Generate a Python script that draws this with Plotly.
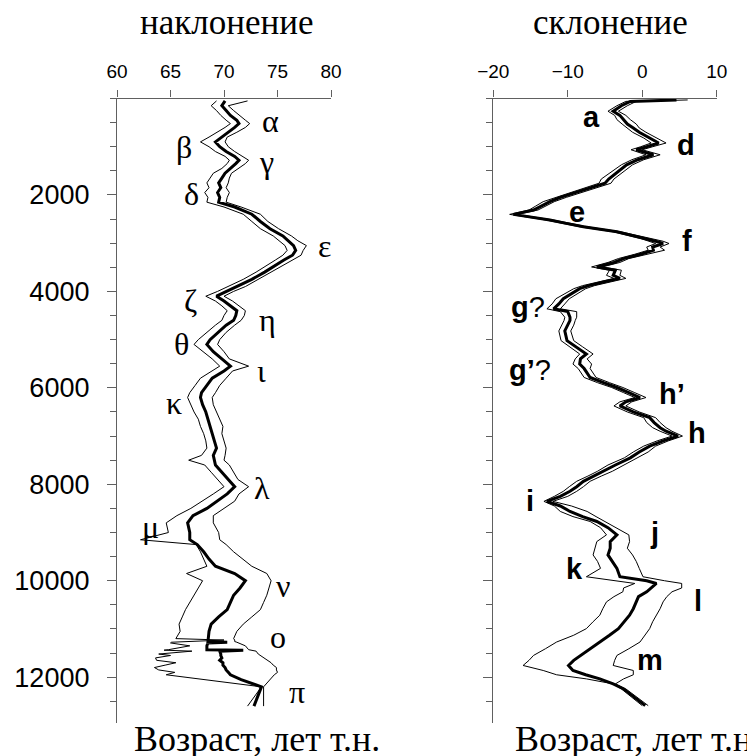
import plotly.graph_objects as go

# ---------------- Inclination (наклонение) ----------------
inc_age = [50, 150, 250, 350, 450, 520, 600, 700, 800, 900, 1000, 1100, 1200, 1280, 1350,
           1450, 1550, 1650, 1750, 1850, 1950, 2050, 2150, 2250, 2400, 2550, 2700, 2850,
           2950, 3050, 3150, 3250, 3350, 3450, 3600, 3750, 3900, 4000, 4100, 4200, 4300,
           4400, 4500, 4600, 4700, 4850, 5000, 5100, 5250, 5400, 5550, 5650, 5800, 5950,
           6100, 6200, 6350, 6500, 6650, 6800, 6950, 7100, 7250, 7400, 7500, 7600, 7750,
           7900, 8050, 8200, 8350, 8500, 8650, 8800, 9000, 9150, 9250, 9400, 9550, 9700,
           9850, 10000, 10150, 10300, 10450, 10600, 10750, 10900,
           11050, 11200, 11230, 11260, 11275, 11290, 11350, 11430, 11440, 11460, 11520, 11550,
           11600, 11650, 11700, 11750, 11800, 11850, 11900, 11950, 12050, 12200, 12600]
inc_mid = [70.1, 69.8, 70.2, 70.6, 71.2, 71.4, 71.0, 70.4, 69.7, 69.2, 69.6, 70.2, 71.0, 71.4, 71.1,
           70.6, 70.1, 69.8, 69.5, 69.7, 69.4, 69.6, 69.5, 71.0, 72.6, 73.4, 74.3, 75.5,
           76.0, 76.5, 76.7, 76.4, 75.6, 74.9, 73.8, 72.6, 71.2, 70.2, 69.3, 70.0, 70.6,
           71.2, 71.1, 70.9, 70.2, 69.4, 68.7, 68.4, 69.0, 69.8, 70.6, 70.0, 68.9, 68.4,
           67.9, 67.8, 68.0, 68.3, 68.5, 68.7, 68.9, 69.1, 69.3, 69.0, 69.1, 69.2, 69.8,
           70.4, 71.0, 70.3, 69.4, 68.4, 67.1, 66.6, 66.8, 66.8, 67.5, 68.1, 68.6, 69.2,
           71.0, 72.0, 71.5, 70.9, 70.6, 70.3, 69.5, 68.8,
           68.6, 68.5, 68.5, 68.5, 70.3, 68.5, 68.4, 68.4, 71.8, 69.6, 69.7, 69.7,
           69.8, 69.6, 69.9, 69.9, 70.1, 70.2, 70.4, 70.6, 71.6, 73.5, 72.8]
inc_low = [69.3, 68.8, 69.3, 69.7, 70.2, 70.6, 70.1, 69.4, 68.6, 67.8, 68.6, 69.2, 70.1, 70.5, 70.3,
           69.8, 69.0, 68.7, 68.4, 68.6, 68.2, 68.5, 68.4, 70.0, 71.8, 72.6, 73.4, 74.6,
           75.2, 75.7, 75.9, 75.5, 74.8, 74.1, 73.0, 71.8, 70.4, 69.4, 68.3, 69.2, 69.8,
           70.3, 70.0, 69.8, 69.2, 68.4, 67.6, 67.2, 68.1, 68.9, 69.6, 68.9, 67.8, 67.3,
           66.8, 66.6, 66.9, 67.2, 67.6, 67.8, 68.1, 68.3, 68.4, 67.9, 66.7, 68.2, 68.8,
           69.4, 70.0, 69.0, 68.0, 66.9, 65.6, 64.6, 64.8, 62.2, 67.4, 67.8, 68.1, 68.4,
           66.5, 68.0, 67.6, 67.2, 66.8, 66.4, 66.1, 65.8,
           65.9, 65.5, 70.0, 65.2, 65.1, 65.0, 66.8, 64.8, 64.4, 67.0, 63.9, 65.0,
           63.6, 63.7, 65.5, 64.5, 63.5, 63.9, 65.4, 64.6, 68.2, 73.5, 72.2]
inc_up = [72.2, 70.4, 70.9, 71.4, 72.0, 72.4, 72.0, 71.2, 70.3, 70.1, 70.4, 71.0, 71.8, 72.3, 72.0,
          71.3, 70.7, 70.5, 70.4, 70.2, 70.5, 70.3, 70.2, 71.6, 73.4, 74.1, 75.1, 76.3,
          76.9, 77.7, 77.4, 77.2, 76.4, 75.7, 74.5, 73.3, 72.0, 70.9, 70.0, 70.8, 71.4,
          72.0, 71.9, 71.6, 71.0, 70.2, 69.6, 69.4, 70.0, 70.5, 72.3, 70.8, 70.2, 69.6,
          69.2, 68.9, 69.0, 69.3, 69.6, 69.9, 69.8, 70.0, 70.2, 70.1, 70.0, 70.5, 70.9,
          71.3, 72.3, 71.4, 71.0, 70.0, 69.0, 69.0, 69.5, 69.6, 70.2, 70.9, 71.7, 72.6,
          74.0, 74.4, 74.2, 74.0, 73.7, 73.4, 72.6, 71.8,
          71.2, 70.9, 71.0, 71.0, 71.2, 71.4, 72.0, 72.3, 72.5, 73.0, 73.2, 73.4,
          73.7, 74.0, 74.4, 74.6, 74.9, 74.9, 75.0, 74.7, 74.3, 73.7, 73.7]

# ---------------- Declination (склонение) ----------------
dec_age = [30, 60, 150, 264, 350, 438, 530, 611, 700, 819, 923, 1000, 1063, 1167, 1270, 1375,
           1480, 1583, 1670, 1757, 1860, 1965, 2050, 2139, 2230, 2313, 2403, 2460, 2521, 2590,
           2660, 2764, 2850, 2903, 2960, 3007, 3080, 3146, 3230, 3319, 3400, 3493, 3560, 3667,
           3730, 3806, 3880, 3944, 4050, 4153, 4260, 4361, 4420, 4535, 4604, 4700, 4820, 5021,
           5150, 5298, 5400, 5507, 5600, 5785, 5893, 5993, 6100, 6201, 6290, 6375, 6500, 6618,
           6720, 6826, 6900, 7000, 7100, 7208, 7330, 7451, 7600, 7729, 7830, 7938, 8050, 8146,
           8250, 8354, 8450, 8563, 8670, 8771, 8900, 9049, 9188, 9326, 9465, 9600, 9743, 9917,
           10000, 10056, 10150, 10229, 10330, 10438, 10580, 10715, 10850, 10993, 11130, 11271,
           11410, 11549, 11650, 11757, 11861, 11950, 12035, 12139, 12243, 12590]
dec_mid = [4.6, -1.6, -2.8, -3.9, -3.0, -2.5, -2.0, -1.2, -0.4, 1.0, 2.2, 0.6, -0.8, 1.5, -0.6, -2.1,
           -3.0, -3.9, -4.5, -5.0, -7.0, -9.3, -11.0, -12.4, -13.6, -14.6, -17.3, -14.8, -12.4, -10.2,
           -7.9, -3.4, -1.0, 0.6, 1.8, 2.8, 1.4, 1.5, -0.2, -2.5, -3.8, -6.1, -3.6, -3.9,
           -3.0, -5.2, -7.2, -8.4, -9.6, -10.6, -11.2, -11.9, -10.0, -9.7, -9.7, -10.0, -10.4, -10.1,
           -8.9, -7.5, -8.3, -8.4, -7.8, -7.0, -5.2, -3.4, -1.8, -0.3, -2.2, -3.0, -1.2, 1.0,
           1.6, 2.4, 3.2, 4.8, 2.8, 1.0, -0.4, -1.6, -3.6, -5.2, -6.5, -7.9, -8.8, -9.7,
           -11.0, -12.8, -11.0, -9.7, -8.0, -6.1, -4.6, -3.4, -4.3, -4.3, -4.6, -4.0, -3.4, -3.0,
           0.6, 1.9, 1.2, 0.6, -0.5, -0.8, -1.2, -1.7, -2.4, -3.2, -4.4, -5.7,
           -7.0, -8.4, -9.2, -9.9, -9.3, -7.6, -5.7, -3.9, -2.5, 0.4]
dec_low = [4.0, -2.2, -3.4, -4.6, -3.7, -3.4, -2.7, -2.0, -1.3, 0.2, 1.2, -0.2, -1.5, 0.5, -1.4, -2.8,
           -3.8, -4.8, -5.5, -5.8, -7.8, -10.0, -11.7, -13.3, -14.3, -15.2, -17.8, -15.3, -12.9, -10.7,
           -8.4, -3.9, -1.6, -0.2, 0.9, 1.8, 0.6, 0.8, -1.0, -3.2, -4.6, -6.8, -4.4, -4.8,
           -3.8, -6.0, -8.0, -9.2, -10.5, -11.6, -12.1, -12.8, -11.0, -10.4, -10.5, -10.8, -11.2, -10.9,
           -9.8, -8.4, -9.0, -9.3, -8.6, -7.8, -6.0, -4.1, -2.5, -1.0, -3.0, -3.8, -2.0, 0.2,
           0.6, 1.4, 2.4, 4.0, 2.0, 0.2, -1.2, -2.4, -4.6, -6.0, -7.3, -8.8, -9.8, -10.6,
           -11.8, -13.2, -11.8, -11.0, -9.3, -7.0, -5.6, -4.8, -6.1, -6.4, -6.6, -6.0, -5.6, -7.5,
           -3.5, -1.0, -2.5, -2.6, -3.8, -4.8, -5.3, -5.7, -6.6, -7.5, -9.2, -11.5,
           -13.0, -14.6, -15.2, -16.0, -13.3, -11.5, -7.5, -3.9, -2.8, 0.0]
dec_up = [6.1, -0.8, -2.0, -3.2, -2.2, -1.6, -0.8, -0.4, 0.5, 2.0, 3.2, 1.4, 0.0, 2.4, 0.2, -1.3,
          -2.2, -3.1, -3.8, -4.2, -6.3, -8.6, -10.2, -11.8, -13.0, -14.0, -16.8, -14.3, -11.9, -9.6,
          -7.4, -2.9, -0.4, 1.4, 2.8, 3.6, 2.4, 3.0, 0.6, -1.8, -3.0, -5.4, -2.8, -3.0,
          -2.2, -4.4, -6.4, -7.6, -8.8, -9.8, -10.4, -11.0, -8.8, -8.8, -9.0, -9.2, -9.6, -9.2,
          -8.0, -6.6, -7.4, -6.8, -7.0, -6.2, -4.4, -2.6, -1.0, 0.5, -1.4, -2.2, -0.4, 1.8,
          2.4, 3.2, 4.0, 5.4, 3.5, 1.8, 0.8, -0.6, -2.5, -4.0, -5.5, -7.0, -7.9, -8.8,
          -10.0, -12.0, -9.5, -7.4, -6.2, -5.0, -3.4, -1.8, -1.7, -2.0, -1.3, -0.8, -0.4, 0.1,
          3.0, 5.3, 5.3, 4.0, 3.3, 2.8, 2.4, 1.9, 1.4, 1.0, 0.4, -0.3,
          -1.8, -3.4, -3.7, -3.9, -1.2, -1.2, -2.5, -3.6, -2.2, 0.8]

inc_ticks = [60, 65, 70, 75, 80]
dec_ticks = [-20, -10, 0, 10]
age_ticks = [2000, 4000, 6000, 8000, 10000, 12000]
age_ticktext = ["2000", "4000", "6000", "8000", "10000", "12000"]
age_minor = list(range(0, 13000, 500))

inc_labels = [("α", 74.3, 470), ("β", 66.3, 1010), ("γ", 74.0, 1320), ("δ", 67.0, 1990),
              ("ε", 79.35, 3050), ("ζ", 66.9, 4200), ("η", 74.1, 4600), ("θ", 66.0, 5090),
              ("ι", 73.55, 5650), ("κ", 65.3, 6320), ("λ", 73.55, 8080), ("μ", 63.1, 8880),
              ("ν", 75.5, 10110), ("ο", 75.0, 11170), ("π", 76.8, 12300)]
dec_labels = [("<b>a</b>", -6.75, 390), ("<b>d</b>", 5.87, 960), ("<b>e</b>", -8.77, 2350),
              ("<b>f</b>", 6.0, 2960), ("<b>g</b>?", -15.3, 4320), ("<b>g’</b>?", -15.1, 5620),
              ("<b>h’</b>", 3.99, 6130), ("<b>h</b>", 7.34, 6940), ("<b>i</b>", -15.1, 8350),
              ("<b>j</b>", 1.7, 9000), ("<b>k</b>", -9.03, 9760), ("<b>l</b>", 7.48, 10420),
              ("<b>m</b>", 1.03, 11640)]

# page body has an 8px margin: size the figure so it fits the window exactly
OFF = 8
W, H = 755 - OFF, 756 - OFF


def px(X):
    return (X - OFF) / W


def py(Y):
    return 1 - (Y - OFF) / H


SERIF = "Liberation Serif"
SANS = "Liberation Sans"
AXC = "#606060"

fig = go.Figure()
thin = dict(color="black", width=1)
thick = dict(color="black", width=3)
for xs, lw in [(inc_low, thin), (inc_up, thin), (inc_mid, thick)]:
    fig.add_trace(go.Scatter(x=xs, y=inc_age, mode="lines", line=lw, xaxis="x", yaxis="y",
                             showlegend=False, hoverinfo="skip"))
for xs, lw in [(dec_low, thin), (dec_up, thin), (dec_mid, thick)]:
    fig.add_trace(go.Scatter(x=xs, y=dec_age, mode="lines", line=lw, xaxis="x2", yaxis="y2",
                             showlegend=False, hoverinfo="skip"))

ydom = [py(723), py(98.5)]
common_y = dict(range=[12950, 0], domain=ydom, showline=True, linecolor=AXC, linewidth=1.3,
                ticks="outside", ticklen=9, tickcolor=AXC, tickwidth=1.3, tickmode="array",
                tickvals=age_ticks, ticktext=age_ticktext, automargin=False,
                showgrid=False, zeroline=False,
                minor=dict(tickmode="array", tickvals=age_minor, ticks="outside", ticklen=6,
                           tickcolor=AXC, tickwidth=1.2, showgrid=False))
common_x = dict(side="top", showline=True, linecolor=AXC, linewidth=1.3, ticks="outside",
                ticklen=7, tickcolor=AXC, tickwidth=1.3, showgrid=False, zeroline=False,
                automargin=False, tickmode="array",
                tickfont=dict(family=SANS, size=19, color="black"), ticklabelstandoff=5)

fig.update_layout(
    width=W, height=H, margin=dict(l=0, r=0, t=0, b=0, autoexpand=False),
    paper_bgcolor="white", plot_bgcolor="white",
    xaxis=dict(common_x, domain=[px(117), px(331)], range=[60, 80], tickvals=inc_ticks, anchor="y"),
    yaxis=dict(common_y, anchor="x", tickfont=dict(family=SANS, size=27, color="black"),
               ticklabelstandoff=12),
    xaxis2=dict(common_x, domain=[px(493.3), px(716.7)], range=[-20, 10], tickvals=dec_ticks,
                anchor="y2"),
    yaxis2=dict(common_y, anchor="x2", showticklabels=False),
)

ann = []
for t, xv, yv in inc_labels:
    ann.append(dict(text=t, x=xv, y=yv, xref="x", yref="y", showarrow=False,
                    xanchor="center", yanchor="middle",
                    font=dict(family=SERIF, size=32, color="black")))
for t, xv, yv in dec_labels:
    ann.append(dict(text=t, x=xv, y=yv, xref="x2", yref="y2", showarrow=False,
                    xanchor="center", yanchor="middle",
                    font=dict(family=SANS, size=29, color="black")))
ttl = dict(xref="paper", yref="paper", showarrow=False, yanchor="middle")
ann.append(dict(ttl, text="наклонение", x=px(227), y=py(23), xanchor="center",
                font=dict(family=SERIF, size=35, color="black")))
ann.append(dict(ttl, text="склонение", x=px(610), y=py(23), xanchor="center",
                font=dict(family=SERIF, size=35, color="black")))
ann.append(dict(ttl, text="Возраст, лет т.н.", x=px(257), y=py(739), xanchor="center",
                font=dict(family=SERIF, size=36, color="black")))
ann.append(dict(ttl, text="Возраст, лет т.н.", x=px(513), y=py(739), xanchor="left",
                font=dict(family=SERIF, size=36, color="black")))
fig.update_layout(annotations=ann)

fig.write_html("out.html")
